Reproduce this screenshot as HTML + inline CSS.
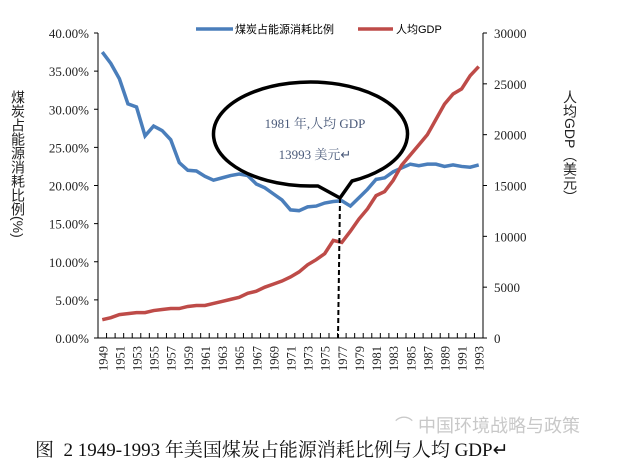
<!DOCTYPE html><html><head><meta charset="utf-8"><style>
body{margin:0;background:#fff;width:640px;height:463px;overflow:hidden}
</style></head><body>
<svg width="640" height="463" xmlns="http://www.w3.org/2000/svg" font-family="Liberation Serif, Noto Serif CJK SC, serif">
<g id="g"></g>
</svg>
<script>
const B=[37.5,36,34,30.7,30.3,26.5,27.8,27.2,26,23,22,21.9,21.2,20.7,21,21.3,21.5,21.3,20.2,19.7,18.9,18.1,16.8,16.7,17.2,17.3,17.7,17.9,18,17.3,18.4,19.5,20.8,21,21.8,22.3,22.8,22.6,22.8,22.8,22.5,22.7,22.5,22.4,22.7];
const R=[1800,2000,2300,2400,2500,2500,2700,2800,2900,2900,3100,3200,3200,3400,3600,3800,4000,4400,4600,5000,5300,5600,6000,6500,7200,7700,8300,9600,9400,10500,11700,12700,14000,14400,15500,17000,18000,19000,20000,21500,23000,24000,24500,25800,26700];
const L=98,Rt=483,T=33,Bo=338,w=(Rt-L)/45;
const X=i=>L+w*(i+0.5),YB=v=>Bo-(Bo-T)*v/40,YR=v=>Bo-(Bo-T)*v/30000;
let s='';
s+=`<line x1="${L}" y1="${T}" x2="${L}" y2="${Bo}" stroke="#000"/><line x1="${Rt}" y1="${T}" x2="${Rt}" y2="${Bo}" stroke="#000"/><line x1="${L}" y1="${Bo}" x2="${Rt}" y2="${Bo}" stroke="#000"/>`;
for(let k=0;k<=8;k++){let y=YB(k*5);s+=`<line x1="${L-4}" x2="${L}" y1="${y}" y2="${y}" stroke="#000"/><text x="${L-9}" y="${y+5}" font-size="13" text-anchor="end" fill="#222">${(k*5).toFixed(2)}%</text>`;}
for(let k=0;k<=6;k++){let y=YR(k*5000);s+=`<line x1="${Rt}" x2="${Rt+4}" y1="${y}" y2="${y}" stroke="#000"/><text x="${Rt+11}" y="${y+5}" font-size="13" fill="#222">${k*5000}</text>`;}
for(let i=0;i<=45;i++){let x=L+w*i;s+=`<line x1="${x}" x2="${x}" y1="${Bo-5}" y2="${Bo}" stroke="#000"/>`;}
for(let i=0;i<45;i+=2){s+=`<text transform="translate(${X(i)+5},${Bo+8}) rotate(-90)" font-size="12.5" text-anchor="end" fill="#222">${1949+i}</text>`;}
s+=`<polyline fill="none" stroke="#4a7ebb" stroke-width="3.5" points="${B.map((v,i)=>X(i)+','+YB(v)).join(' ')}"/>`;
s+=`<polyline fill="none" stroke="#be4b48" stroke-width="3.5" points="${R.map((v,i)=>X(i)+','+YR(v)).join(' ')}"/>`;
s+=`<path d="M310,186 A97,52 0 1 1 352,181 L340,198 L318,186 Z" fill="#fff" stroke="#000" stroke-width="3.5" stroke-linejoin="round"/>`;
s+=`<text x="315" y="128" font-size="13" text-anchor="middle" fill="#4a5a7a">1981 年,人均 GDP</text><text x="315" y="159" font-size="13" text-anchor="middle" fill="#4a5a7a">13993 美元↵</text>`;
s+=`<line x1="340" y1="198" x2="338" y2="338" stroke="#000" stroke-width="2" stroke-dasharray="5,3"/>`;
s+=`<line x1="196" x2="233" y1="29" y2="29" stroke="#4a7ebb" stroke-width="3.5"/><text x="235" y="33" font-size="11" font-family="Liberation Sans, Noto Sans CJK SC, sans-serif">煤炭占能源消耗比例</text>`;
s+=`<line x1="358" x2="393" y1="29" y2="29" stroke="#be4b48" stroke-width="3.5"/><text x="396" y="33" font-size="11" font-family="Liberation Sans, Noto Sans CJK SC, sans-serif">人均GDP</text>`;
s+=`<text x="18" y="90" font-size="14" writing-mode="tb" fill="#222" font-family="Liberation Sans, Noto Sans CJK SC, sans-serif">煤炭占能源消耗比例(%)</text>`;
s+=`<text x="570" y="90" font-size="14" writing-mode="tb" fill="#222" font-family="Liberation Sans, Noto Sans CJK SC, sans-serif">人均GDP（美元）</text>`;
s+=`<text x="395" y="432" font-size="18" fill="#c8c8c8" font-family="Liberation Sans, Noto Sans CJK SC, sans-serif">⌒ 中国环境战略与政策</text>`;
s+=`<text x="35" y="456" font-size="19" fill="#111" xml:space="preserve">图  2 1949-1993 年美国煤炭占能源消耗比例与人均 GDP↵</text>`;
document.getElementById('g').innerHTML=s;
</script>
</body></html>
